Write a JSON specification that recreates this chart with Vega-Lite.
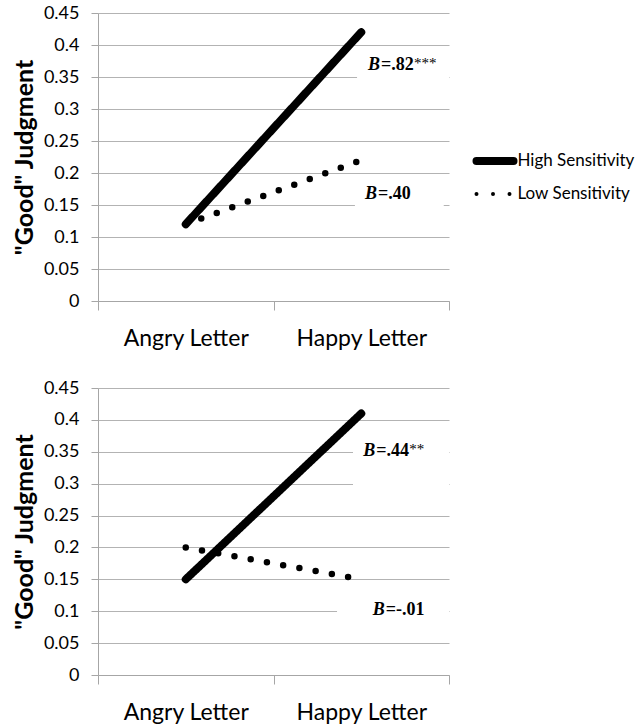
{
  "$schema": "https://vega.github.io/schema/vega-lite/v6.json",
  "padding": {"left": 12, "top": 4, "right": 0, "bottom": 0},
  "background": "white",
  "spacing": 29,
  "config": {
    "view": {"stroke": null},
    "font": "Lato",
    "numberFormat": ".2~f",
    "axis": {"domainColor": "#a6a6a6", "tickColor": "#a6a6a6", "gridColor": "#b3b3b3", "labelColor": "black", "titleColor": "black", "labelFont": "Lato", "titleFont": "Lato"},
    "axisY": {"tickCount": 10, "labelFontSize": 18, "tickSize": 7, "labelPadding": 12, "titleFontSize": 25, "titleFontWeight": "bold", "titlePadding": 6, "grid": true},
    "axisX": {"grid": false}
  },
  "datasets": {
    "lines": [
      {"panel": "top", "series": "High Sensitivity", "letter": "Angry Letter", "value": 0.12},
      {"panel": "top", "series": "High Sensitivity", "letter": "Happy Letter", "value": 0.42},
      {"panel": "top", "series": "Low Sensitivity", "letter": "Angry Letter", "value": 0.12},
      {"panel": "top", "series": "Low Sensitivity", "letter": "Happy Letter", "value": 0.22},
      {"panel": "bottom", "series": "High Sensitivity", "letter": "Angry Letter", "value": 0.15},
      {"panel": "bottom", "series": "High Sensitivity", "letter": "Happy Letter", "value": 0.41},
      {"panel": "bottom", "series": "Low Sensitivity", "letter": "Angry Letter", "value": 0.20},
      {"panel": "bottom", "series": "Low Sensitivity", "letter": "Happy Letter", "value": 0.15}
    ],
    "notes": [
      {"panel": "top", "ax": 1.538, "ay": 0.368, "b": "B", "rest": "=.82", "stars": "***"},
      {"panel": "top", "ax": 1.521, "ay": 0.167, "b": "B", "rest": "=.40", "stars": ""},
      {"panel": "bottom", "ax": 1.512, "ay": 0.352, "b": "B", "rest": "=.44", "stars": "**"},
      {"panel": "bottom", "ax": 1.565, "ay": 0.102, "b": "B", "rest": "=-.01", "stars": ""}
    ],
    "boxes": [
      {"panel": "top", "x1": 1.476, "x2": 2.0, "y1": 0.343, "y2": 0.395},
      {"panel": "top", "x1": 1.464, "x2": 1.97, "y1": 0.143, "y2": 0.19},
      {"panel": "bottom", "x1": 1.453, "x2": 2.0, "y1": 0.29, "y2": 0.385},
      {"panel": "bottom", "x1": 1.362, "x2": 2.0, "y1": 0.09, "y2": 0.115}
    ]
  },
  "vconcat": [
    {
      "width": 351, "height": 288,
      "resolve": {"scale": {"x": "independent"}},
      "layer": [
        {
          "layer": [
            {"data": {"name": "boxes"}, "transform": [{"filter": "datum.panel === 'top'"}],
             "mark": {"type": "rect", "color": "white"},
             "encoding": {"x": {"field": "x1", "type": "quantitative", "scale": {"domain": [0, 2], "nice": false}, "axis": null},
                          "x2": {"field": "x2"},
                          "y": {"field": "y1", "type": "quantitative", "scale": {"domain": [0, 0.45], "nice": false}, "axis": {"title": "\"Good\" Judgment"}},
                          "y2": {"field": "y2"}}},
            {"data": {"name": "notes"}, "transform": [{"filter": "datum.panel === 'top'"}],
             "mark": {"type": "text", "font": "Liberation Serif", "fontSize": 18, "fontWeight": "bold", "fontStyle": "italic", "align": "left", "baseline": "middle", "color": "black"},
             "encoding": {"x": {"field": "ax", "type": "quantitative", "scale": {"domain": [0, 2], "nice": false}, "axis": null},
                          "y": {"field": "ay", "type": "quantitative", "axis": {"title": "\"Good\" Judgment"}}, "text": {"field": "b"}}},
            {"data": {"name": "notes"}, "transform": [{"filter": "datum.panel === 'top'"}],
             "mark": {"type": "text", "font": "Liberation Serif", "fontSize": 18, "fontWeight": "bold", "align": "left", "baseline": "middle", "dx": 13, "color": "black"},
             "encoding": {"x": {"field": "ax", "type": "quantitative"},
                          "y": {"field": "ay", "type": "quantitative", "axis": {"title": "\"Good\" Judgment"}}, "text": {"field": "rest"}}},
            {"data": {"name": "notes"}, "transform": [{"filter": "datum.panel === 'top'"}],
             "mark": {"type": "text", "font": "Liberation Serif", "fontSize": 15, "align": "left", "baseline": "middle", "dx": 46, "dy": -2, "color": "black"},
             "encoding": {"x": {"field": "ax", "type": "quantitative"},
                          "y": {"field": "ay", "type": "quantitative", "axis": {"title": "\"Good\" Judgment"}}, "text": {"field": "stars"}}}
          ]
        },
        {
          "data": {"name": "lines"}, "transform": [{"filter": "datum.panel === 'top'"}],
          "mark": {"type": "line", "strokeCap": "round", "color": "black"},
          "encoding": {
            "x": {"field": "letter", "type": "nominal", "sort": ["Angry Letter", "Happy Letter"], "bandPosition": 0.5,
                  "scale": {"type": "band", "paddingInner": 0, "paddingOuter": 0},
                  "axis": {"orient": "bottom", "title": null, "tickBand": "extent", "labelAngle": 0, "labelFontSize": 23, "tickSize": 9, "labelPadding": 17, "grid": false}},
            "y": {"field": "value", "type": "quantitative", "scale": {"domain": [0, 0.45], "nice": false},
                  "axis": {"title": "\"Good\" Judgment"}},
            "strokeDash": {"field": "series", "type": "nominal",
                           "scale": {"domain": ["High Sensitivity", "Low Sensitivity"], "range": [[1, 0], [0, 16.5]]},
                           "legend": {"title": null, "orient": "none", "legendX": 388.5, "legendY": 139.5, "padding": 0,
                                      "symbolType": "stroke", "symbolSize": 1369, "symbolStrokeColor": "black",
                                      "labelFont": "Lato", "labelFontSize": 17, "labelColor": "black", "labelOffset": 14, "rowPadding": 7,
                                      "encode": {"symbols": {"update": {
                                        "strokeWidth": {"signal": "datum.value === 'High Sensitivity' ? 8 : 4"},
                                        "strokeCap": {"value": "round"}}}}}},
            "strokeWidth": {"condition": {"test": "datum.series === 'High Sensitivity'", "value": 8}, "value": 6.5}
          }
        }
      ]
    },
    {
      "width": 351, "height": 287,
      "resolve": {"scale": {"x": "independent"}},
      "layer": [
        {
          "layer": [
            {"data": {"name": "boxes"}, "transform": [{"filter": "datum.panel === 'bottom'"}],
             "mark": {"type": "rect", "color": "white"},
             "encoding": {"x": {"field": "x1", "type": "quantitative", "scale": {"domain": [0, 2], "nice": false}, "axis": null},
                          "x2": {"field": "x2"},
                          "y": {"field": "y1", "type": "quantitative", "scale": {"domain": [0, 0.45], "nice": false}, "axis": {"title": "\"Good\" Judgment"}},
                          "y2": {"field": "y2"}}},
            {"data": {"name": "notes"}, "transform": [{"filter": "datum.panel === 'bottom'"}],
             "mark": {"type": "text", "font": "Liberation Serif", "fontSize": 18, "fontWeight": "bold", "fontStyle": "italic", "align": "left", "baseline": "middle", "color": "black"},
             "encoding": {"x": {"field": "ax", "type": "quantitative", "scale": {"domain": [0, 2], "nice": false}, "axis": null},
                          "y": {"field": "ay", "type": "quantitative", "axis": {"title": "\"Good\" Judgment"}}, "text": {"field": "b"}}},
            {"data": {"name": "notes"}, "transform": [{"filter": "datum.panel === 'bottom'"}],
             "mark": {"type": "text", "font": "Liberation Serif", "fontSize": 18, "fontWeight": "bold", "align": "left", "baseline": "middle", "dx": 13, "color": "black"},
             "encoding": {"x": {"field": "ax", "type": "quantitative"},
                          "y": {"field": "ay", "type": "quantitative", "axis": {"title": "\"Good\" Judgment"}}, "text": {"field": "rest"}}},
            {"data": {"name": "notes"}, "transform": [{"filter": "datum.panel === 'bottom'"}],
             "mark": {"type": "text", "font": "Liberation Serif", "fontSize": 15, "align": "left", "baseline": "middle", "dx": 46, "dy": -2, "color": "black"},
             "encoding": {"x": {"field": "ax", "type": "quantitative"},
                          "y": {"field": "ay", "type": "quantitative", "axis": {"title": "\"Good\" Judgment"}}, "text": {"field": "stars"}}}
          ]
        },
        {
          "data": {"name": "lines"}, "transform": [{"filter": "datum.panel === 'bottom'"}],
          "mark": {"type": "line", "strokeCap": "round", "color": "black"},
          "encoding": {
            "x": {"field": "letter", "type": "nominal", "sort": ["Angry Letter", "Happy Letter"], "bandPosition": 0.5,
                  "scale": {"type": "band", "paddingInner": 0, "paddingOuter": 0},
                  "axis": {"orient": "bottom", "title": null, "tickBand": "extent", "labelAngle": 0, "labelFontSize": 23, "tickSize": 9, "labelPadding": 17, "grid": false}},
            "y": {"field": "value", "type": "quantitative", "scale": {"domain": [0, 0.45], "nice": false},
                  "axis": {"title": "\"Good\" Judgment"}},
            "strokeDash": {"field": "series", "type": "nominal",
                           "scale": {"domain": ["High Sensitivity", "Low Sensitivity"], "range": [[1, 0], [0, 16.5]]},
                           "legend": {"title": null, "orient": "none", "legendX": 388.5, "legendY": 139.5, "padding": 0,
                                      "symbolType": "stroke", "symbolSize": 1369, "symbolStrokeColor": "black",
                                      "labelFont": "Lato", "labelFontSize": 17, "labelColor": "black", "labelOffset": 14, "rowPadding": 7,
                                      "encode": {"symbols": {"update": {
                                        "strokeWidth": {"signal": "datum.value === 'High Sensitivity' ? 8 : 4"},
                                        "strokeCap": {"value": "round"}}}}}},
            "strokeWidth": {"condition": {"test": "datum.series === 'High Sensitivity'", "value": 8}, "value": 6.5}
          }
        }
      ]
    }
  ]
}
